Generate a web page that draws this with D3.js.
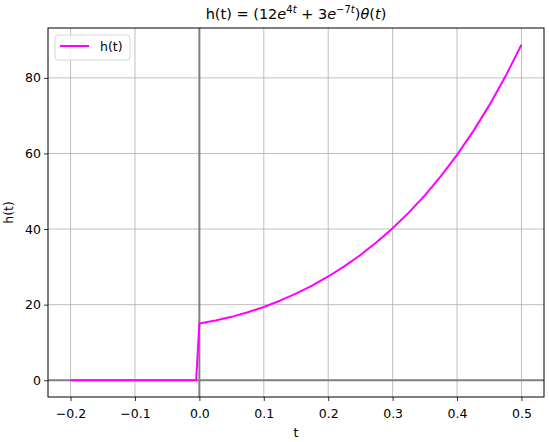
<!DOCTYPE html>
<html>
<head>
<meta charset="utf-8">
<script src="https://cdn.jsdelivr.net/npm/d3@7"></script>
<style>
  body { margin: 0; background: #fff; }
  text { font-family: "DejaVu Sans", sans-serif; }
</style>
</head>
<body>
<div id="chart"></div>
<script>
var svgWidth = 549;
var svgHeight = 442;

var margin = { top: 28, right: 5, bottom: 45, left: 48 };
var width = svgWidth - margin.left - margin.right;
var height = svgHeight - margin.top - margin.bottom;

// samples of h(t)
var tValues = [-0.2, -0.005, 0, 0.025, 0.05, 0.075, 0.1, 0.125, 0.15, 0.175, 0.2,
  0.225, 0.25, 0.275, 0.3, 0.325, 0.35, 0.375, 0.4, 0.425, 0.45, 0.475, 0.5];
var hValues = [0, 0, 15.0, 15.78, 16.77, 17.97, 19.39, 21.04, 22.92, 25.05, 27.45,
  30.14, 33.14, 36.49, 40.21, 44.34, 48.92, 54.0, 59.62, 65.84, 72.72, 80.34, 88.76];

var xTicks = [-0.2, -0.1, 0.0, 0.1, 0.2, 0.3, 0.4, 0.5];
var yTicks = [0, 20, 40, 60, 80];

var data = tValues.map((t, i) => ({ t: t, h: hValues[i] }));

var svg = d3.select("#chart")
  .append("svg")
  .attr("width", svgWidth)
  .attr("height", svgHeight);

var chartGroup = svg.append("g")
  .attr("transform", `translate(${margin.left}, ${margin.top})`);

// matplotlib style 5% margins
var tMin = d3.min(tValues), tMax = d3.max(tValues);
var hMin = d3.min(hValues), hMax = d3.max(hValues);
var xLinearScale = d3.scaleLinear()
  .domain([tMin - 0.05 * (tMax - tMin), tMax + 0.05 * (tMax - tMin)])
  .range([0, width]);
var yLinearScale = d3.scaleLinear()
  .domain([hMin - 0.05 * (hMax - hMin), hMax + 0.05 * (hMax - hMin)])
  .range([height, 0]);

// grid
chartGroup.append("g")
  .selectAll("line")
  .data(xTicks)
  .enter()
  .append("line")
  .attr("x1", d => xLinearScale(d))
  .attr("x2", d => xLinearScale(d))
  .attr("y1", 0)
  .attr("y2", height)
  .attr("stroke", "#b0b0b0")
  .attr("stroke-width", 0.8);

chartGroup.append("g")
  .selectAll("line")
  .data(yTicks)
  .enter()
  .append("line")
  .attr("x1", 0)
  .attr("x2", width)
  .attr("y1", d => yLinearScale(d))
  .attr("y2", d => yLinearScale(d))
  .attr("stroke", "#b0b0b0")
  .attr("stroke-width", 0.8);

// zero lines
chartGroup.append("line")
  .attr("x1", 0).attr("x2", width)
  .attr("y1", yLinearScale(0)).attr("y2", yLinearScale(0))
  .attr("stroke", "#808080")
  .attr("stroke-width", 2);
chartGroup.append("line")
  .attr("x1", xLinearScale(0)).attr("x2", xLinearScale(0))
  .attr("y1", 0).attr("y2", height)
  .attr("stroke", "#808080")
  .attr("stroke-width", 2);

// the curve
var line = d3.line()
  .x(d => xLinearScale(d.t))
  .y(d => yLinearScale(d.h));

chartGroup.append("path")
  .datum(data)
  .attr("d", line)
  .attr("fill", "none")
  .attr("stroke", "#ff00ff")
  .attr("stroke-width", 2)
  .attr("stroke-linejoin", "round");

// axes
var bottomAxis = d3.axisBottom(xLinearScale)
  .tickValues(xTicks)
  .tickFormat(d => d3.format(".1f")(d).replace("-", "\u2212"))
  .tickSize(4)
  .tickSizeOuter(0);
var leftAxis = d3.axisLeft(yLinearScale)
  .tickValues(yTicks)
  .tickSize(4)
  .tickSizeOuter(0);

var xAxis = chartGroup.append("g")
  .attr("transform", `translate(0, ${height})`)
  .call(bottomAxis);
var yAxis = chartGroup.append("g")
  .call(leftAxis);

[xAxis, yAxis].forEach(function(ax) {
  ax.select(".domain").remove();
  ax.selectAll("line").attr("stroke", "#000").attr("stroke-width", 0.8);
  ax.selectAll("text")
    .attr("fill", "#000")
    .style("font-size", "12.5px")
    .style("font-family", "DejaVu Sans, sans-serif");
});
xAxis.selectAll("text").attr("dy", "0.71em").attr("y", 12);
yAxis.selectAll("text").attr("x", -7);

// frame
chartGroup.append("rect")
  .attr("width", width)
  .attr("height", height)
  .attr("fill", "none")
  .attr("stroke", "#000")
  .attr("stroke-width", 1);

// axis labels
chartGroup.append("text")
  .attr("x", width / 2)
  .attr("y", height + 40)
  .attr("text-anchor", "middle")
  .style("font-size", "12.5px")
  .text("t");

chartGroup.append("text")
  .attr("transform", "rotate(-90)")
  .attr("x", -height / 2)
  .attr("y", -35.5)
  .attr("text-anchor", "middle")
  .style("font-size", "12.5px")
  .text("h(t)");

// title with math
var title = svg.append("text")
  .attr("x", margin.left + width / 2)
  .attr("y", 19)
  .attr("text-anchor", "middle")
  .style("font-size", "14.5px");
title.append("tspan").text("h(t) = (12");
title.append("tspan").style("font-style", "italic").text("e");
title.append("tspan").attr("dy", -6).style("font-size", "10px").text("4");
title.append("tspan").style("font-size", "10px").style("font-style", "italic").text("t");
title.append("tspan").attr("dy", 6).text(" + 3");
title.append("tspan").style("font-style", "italic").text("e");
title.append("tspan").attr("dy", -6).style("font-size", "10px").text("\u22127");
title.append("tspan").style("font-size", "10px").style("font-style", "italic").text("t");
title.append("tspan").attr("dy", 6).text(")");
title.append("tspan").style("font-style", "italic").text("\u03b8");
title.append("tspan").text("(");
title.append("tspan").style("font-style", "italic").text("t");
title.append("tspan").text(")");

// legend
var legend = chartGroup.append("g")
  .attr("transform", "translate(7, 7)");
legend.append("rect")
  .attr("width", 75)
  .attr("height", 25)
  .attr("rx", 3)
  .attr("fill", "#fff")
  .attr("fill-opacity", 0.8)
  .attr("stroke", "#d6d6d6")
  .attr("stroke-width", 1);
legend.append("line")
  .attr("x1", 5).attr("x2", 34)
  .attr("y1", 11).attr("y2", 11)
  .attr("stroke", "#ff00ff")
  .attr("stroke-width", 2);
legend.append("text")
  .attr("x", 45)
  .attr("y", 16)
  .style("font-size", "12.5px")
  .text("h(t)");
</script>
</body>
</html>
